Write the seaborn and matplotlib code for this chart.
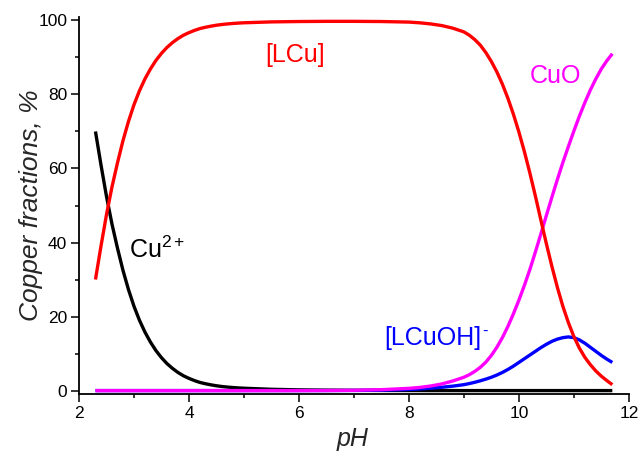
import matplotlib
matplotlib.use("Agg")
import matplotlib.pyplot as plt
import pandas as pd
import seaborn as sns

# pH grid (denser where the curves bend)
ph = [2.3, 2.4, 2.5, 2.6, 2.7, 2.8, 2.9, 3.0, 3.1, 3.2, 3.3, 3.4, 3.5, 3.6,
      3.7, 3.8, 3.9, 4.0, 4.1, 4.2, 4.3, 4.4, 4.5, 4.6, 4.7, 4.8, 4.9, 5.0,
      5.5, 6.0, 6.5, 7.0, 7.5, 8.0, 8.2, 8.4, 8.6, 8.8,
      9.0, 9.1, 9.2, 9.3, 9.4, 9.5, 9.6, 9.7, 9.8, 9.9,
      10.0, 10.1, 10.2, 10.3, 10.4, 10.5, 10.6, 10.7, 10.8, 10.9,
      11.0, 11.1, 11.2, 11.3, 11.4, 11.5, 11.6, 11.7]

# copper fractions, %
cu_free = [70.0, 61.0, 52.5, 45.0, 38.5, 32.5, 27.3, 22.8, 19.0, 15.8, 13.1, 10.8, 8.9, 7.3,
           6.0, 4.9, 4.0, 3.3, 2.7, 2.2, 1.85, 1.55, 1.3, 1.1, 0.95, 0.82, 0.72, 0.64,
           0.35, 0.2, 0.12, 0.07, 0.04, 0.02, 0.01, 0.0, 0.0, 0.0,
           0.0, 0.0, 0.0, 0.0, 0.0, 0.0, 0.0, 0.0, 0.0, 0.0,
           0.0, 0.0, 0.0, 0.0, 0.0, 0.0, 0.0, 0.0, 0.0, 0.0,
           0.0, 0.0, 0.0, 0.0, 0.0, 0.0, 0.0, 0.0]

lcu = [30.0, 39.0, 47.5, 55.0, 61.5, 67.5, 72.7, 77.2, 81.0, 84.2, 86.9, 89.2, 91.1, 92.7,
       94.0, 95.1, 96.0, 96.7, 97.3, 97.8, 98.15, 98.45, 98.7, 98.9, 99.05, 99.18, 99.28, 99.36,
       99.6, 99.7, 99.75, 99.75, 99.7, 99.55, 99.35, 99.05, 98.6, 97.9,
       96.9, 96.0, 94.8, 93.3, 91.3, 88.9, 86.1, 82.8, 79.0, 74.7,
       69.9, 64.6, 58.8, 52.6, 46.1, 39.7, 33.6, 27.9, 22.8, 18.4,
       14.6, 11.5, 9.0, 7.0, 5.3, 3.9, 2.7, 1.6]

lcuoh = [0.0, 0.0, 0.0, 0.0, 0.0, 0.0, 0.0, 0.0, 0.0, 0.0, 0.0, 0.0, 0.0, 0.0,
         0.0, 0.0, 0.0, 0.0, 0.0, 0.0, 0.0, 0.0, 0.0, 0.0, 0.0, 0.0, 0.0, 0.0,
         0.0, 0.0, 0.01, 0.03, 0.1, 0.3, 0.45, 0.65, 0.9, 1.2,
         1.6, 1.9, 2.25, 2.65, 3.1, 3.6, 4.2, 4.9, 5.7, 6.6,
         7.6, 8.6, 9.6, 10.6, 11.6, 12.5, 13.3, 13.9, 14.3, 14.5,
         14.3, 13.7, 12.8, 11.7, 10.6, 9.5, 8.5, 7.6]

cuo = [0.0, 0.0, 0.0, 0.0, 0.0, 0.0, 0.0, 0.0, 0.0, 0.0, 0.0, 0.0, 0.0, 0.0,
       0.0, 0.0, 0.0, 0.0, 0.0, 0.0, 0.0, 0.0, 0.0, 0.0, 0.0, 0.0, 0.0, 0.0,
       0.0, 0.0, 0.02, 0.08, 0.25, 0.6, 0.85, 1.25, 1.8, 2.6,
       3.6, 4.3, 5.2, 6.3, 7.7, 9.5, 11.7, 14.3, 17.3, 20.7,
       24.4, 28.4, 32.7, 37.4, 42.3, 47.3, 52.2, 57.0, 61.6, 65.9,
       70.1, 74.1, 77.8, 81.2, 84.2, 86.9, 89.1, 91.0]

species = ["Cu2+", "[LCuOH]-", "CuO", "[LCu]"]
colors = {"Cu2+": "#000000", "[LCuOH]-": "#0000FF", "CuO": "#FF00FF", "[LCu]": "#FF0000"}

df = pd.DataFrame({"pH": ph, "Cu2+": cu_free, "[LCu]": lcu,
                   "[LCuOH]-": lcuoh, "CuO": cuo})
long = df.melt(id_vars="pH", var_name="species", value_name="fraction")

sns.set_theme(style="ticks")
plt.rcParams["font.family"] = ["Liberation Sans", "DejaVu Sans"]
plt.rcParams["mathtext.fontset"] = "custom"
plt.rcParams["mathtext.rm"] = "Liberation Sans"
plt.rcParams["mathtext.it"] = "Liberation Sans:italic"
plt.rcParams["axes.linewidth"] = 1.3

fig = plt.figure(figsize=(6.41, 4.53), dpi=100)
ax = fig.add_axes([0.1232, 0.1296, 0.8578, 0.8335])

sns.lineplot(data=long, x="pH", y="fraction", hue="species", hue_order=species,
             palette=colors, linewidth=2.4, legend=False, sort=False, ax=ax)
for line in ax.lines:
    line.set_solid_joinstyle("round")
    line.set_solid_capstyle("butt")

ax.set_xlim(2, 12)
ax.set_ylim(-1, 101)
ax.set_xticks([2, 4, 6, 8, 10, 12])
ax.set_xticks([3, 5, 7, 9, 11], minor=True)
ax.set_yticks([0, 20, 40, 60, 80, 100])
ax.set_yticks([10, 30, 50, 70, 90], minor=True)
ax.tick_params(which="major", direction="out", length=5.5, width=1.1,
               labelsize=12.5, colors="black", pad=3)
ax.tick_params(which="minor", direction="out", length=3, width=1.1, colors="black")
sns.despine(ax=ax)
for s in ("left", "bottom"):
    ax.spines[s].set_color("black")

ax.set_xlabel("pH", fontsize=18, fontstyle="italic")
ax.set_ylabel("Copper fractions, %", fontsize=19, fontstyle="italic")
ax.xaxis.set_label_coords(0.497, -0.087)
ax.yaxis.set_label_coords(-0.066, 0.5)

ax.text(5.93, 88.8, "[LCu]", color="#FF0000", fontsize=18, ha="center", va="baseline")
ax.text(10.66, 83.1, "CuO", color="#FF00FF", fontsize=18, ha="center", va="baseline")
ax.text(2.915, 35.8, r"Cu$^{\mathregular{2+}}$", color="black", fontsize=18,
        ha="left", va="baseline")
lcuoh_label = ax.text(7.56, 12.4, "[LCuOH]", color="#0000FF", fontsize=18,
                      ha="left", va="baseline")
ax.annotate("-", xy=(1.0, 1.0), xycoords=lcuoh_label, xytext=(0.5, 1.5),
            textcoords="offset points", color="#0000FF", fontsize=12,
            ha="left", va="top")

fig.savefig("out.png", dpi=100)
